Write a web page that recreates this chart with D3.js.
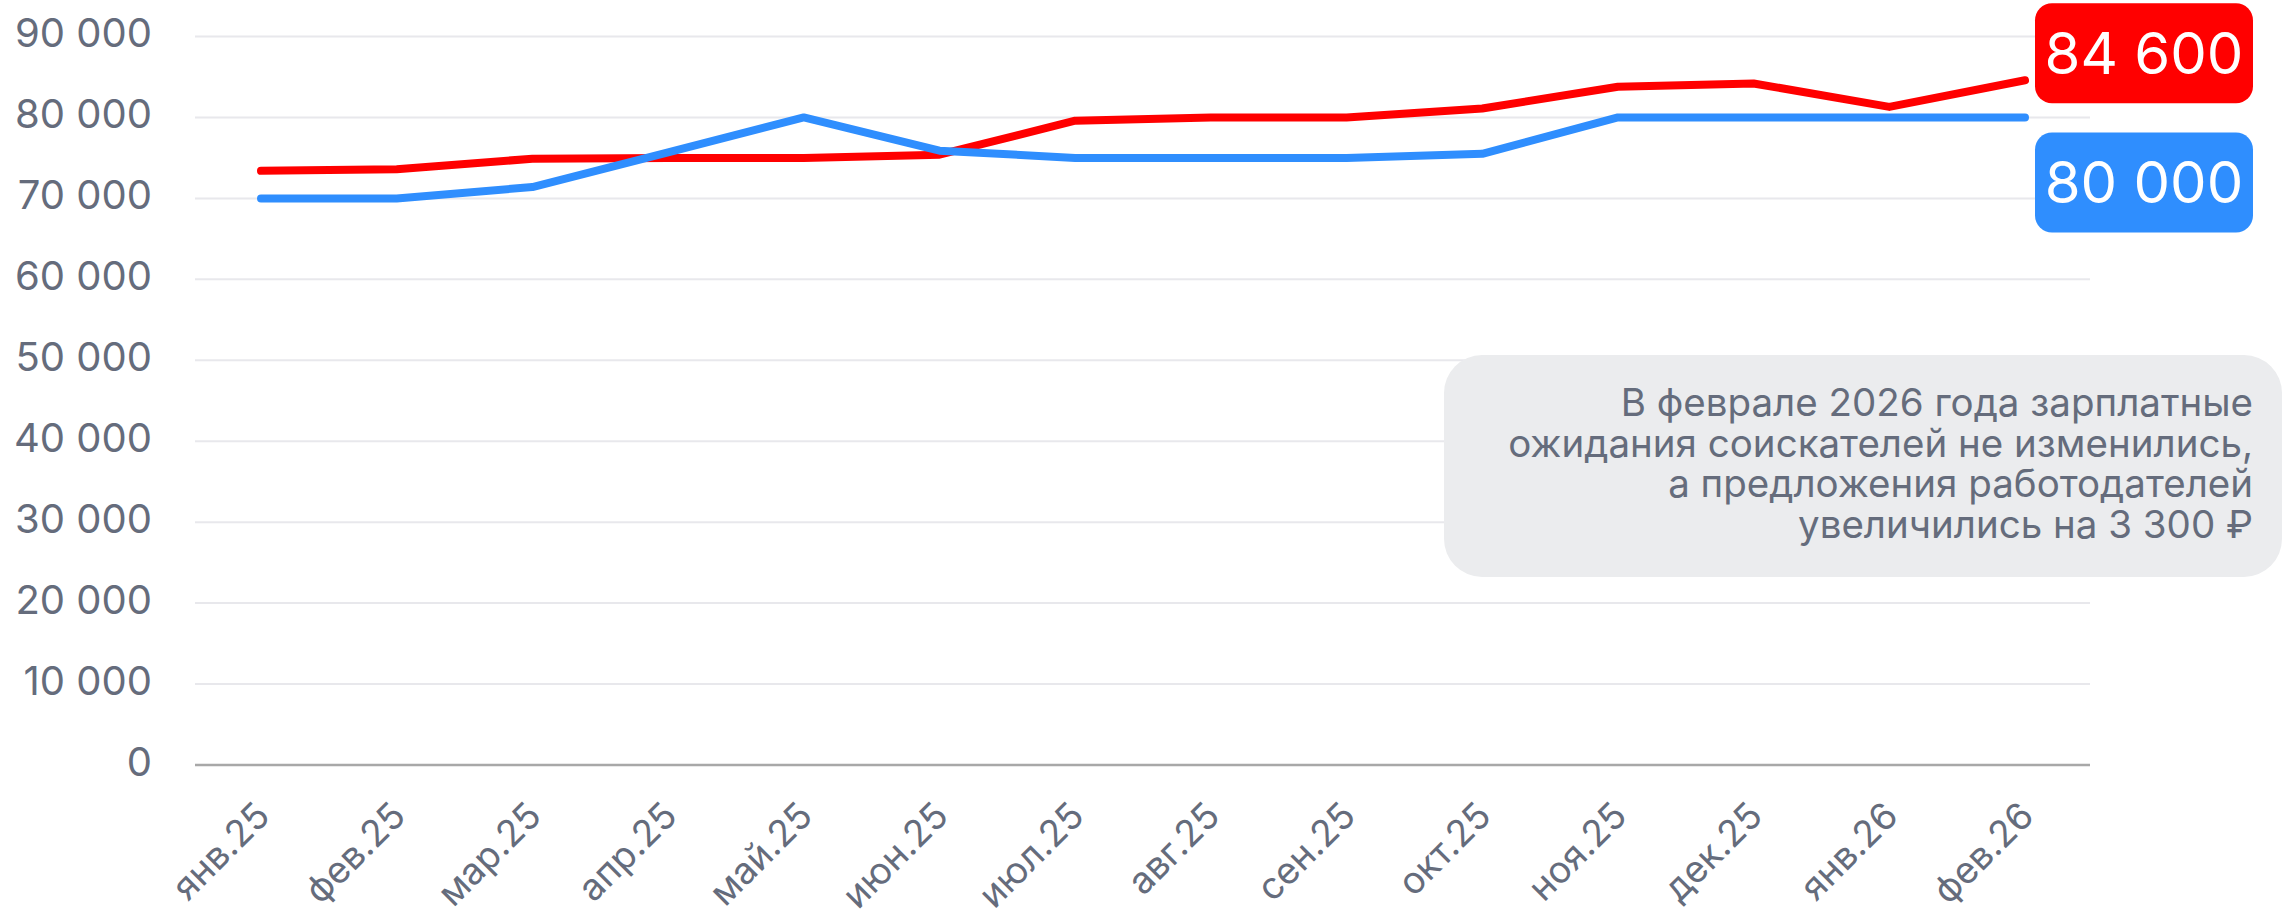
<!DOCTYPE html>
<html>
<head>
<meta charset="utf-8">
<script src="https://cdn.jsdelivr.net/npm/d3@7/dist/d3.min.js"></script>
<style>
  body { margin: 0; background: #fff; }
  svg { display: block; font-family: Inter, "Noto Sans", sans-serif; }
</style>
</head>
<body>
<div id="chart-area"></div>
<script>
// months on the x axis
var months = ["янв.25", "фев.25", "мар.25", "апр.25", "май.25", "июн.25", "июл.25",
              "авг.25", "сен.25", "окт.25", "ноя.25", "дек.25", "янв.26", "фев.26"];

// red line (соискатели)
var redValues = [73400, 73600, 74900, 75000, 75000, 75400, 79600,
                 80000, 80000, 81100, 83800, 84200, 81300, 84600];

// blue line (работодатели)
var blueValues = [70000, 70000, 71400, 75700, 80000, 75900, 75000,
                  75000, 75000, 75500, 80000, 80000, 80000, 80000];

var yTicks = [0, 10000, 20000, 30000, 40000, 50000, 60000, 70000, 80000, 90000];

var noteLines = ["В феврале 2026 года зарплатные",
                 "ожидания соискателей не изменились,",
                 "а предложения работодателей",
                 "увеличились на 3 300 ₽"];

var width = 2282, height = 919;
var textColor = "#656c7c";

var svg = d3.select("#chart-area")
    .append("svg")
        .attr("width", width)
        .attr("height", height);

var xScale = d3.scalePoint()
    .domain(months)
    .range([261, 2025]);

var yScale = d3.scaleLinear()
    .domain([0, 90000])
    .range([765, 36.5]);

var fmt = function(d) {
    return d3.format(",")(d).replace(/,/g, " ");
};

// grid
svg.append("g")
    .attr("class", "grid")
    .selectAll("line")
    .data(yTicks.filter(function(d) { return d > 0; }))
    .enter()
    .append("line")
        .attr("x1", 195)
        .attr("x2", 2090)
        .attr("y1", function(d) { return yScale(d); })
        .attr("y2", function(d) { return yScale(d); })
        .attr("stroke", "#e8e8ec")
        .attr("stroke-width", 2);

svg.append("line")
    .attr("x1", 195)
    .attr("x2", 2090)
    .attr("y1", yScale(0))
    .attr("y2", yScale(0))
    .attr("stroke", "#a8a8a8")
    .attr("stroke-width", 2.5);

// y axis labels
var yAxisCall = d3.axisLeft(yScale)
    .tickValues(yTicks)
    .tickSize(0)
    .tickPadding(0)
    .tickFormat(fmt);

var yAxis = svg.append("g")
    .attr("class", "y-axis")
    .attr("transform", "translate(152, 0)")
    .call(yAxisCall);
yAxis.select(".domain").remove();
yAxis.selectAll("text")
    .attr("font-size", "40px")
    .attr("font-family", "Inter, sans-serif")
    .attr("fill", textColor)
    .attr("dy", "0.26em");

// x axis labels
svg.append("g")
    .attr("class", "x-axis")
    .selectAll("text")
    .data(months)
    .enter()
    .append("text")
        .attr("transform", function(d) {
            return "translate(" + (xScale(d) + 11) + ", 818) rotate(-45)";
        })
        .attr("text-anchor", "end")
        .attr("font-size", "37px")
        .attr("fill", textColor)
        .text(function(d) { return d; });

// lines
var line = d3.line()
    .x(function(d, i) { return xScale(months[i]); })
    .y(function(d) { return yScale(d); });

svg.append("path")
    .attr("d", line(redValues))
    .attr("fill", "none")
    .attr("stroke", "#ff0000")
    .attr("stroke-width", 8)
    .attr("stroke-linecap", "round")
    .attr("stroke-linejoin", "round");

svg.append("path")
    .attr("d", line(blueValues))
    .attr("fill", "none")
    .attr("stroke", "#2f8efe")
    .attr("stroke-width", 8)
    .attr("stroke-linecap", "round")
    .attr("stroke-linejoin", "round");

// end labels
var lastRed = redValues[redValues.length - 1];
var lastBlue = blueValues[blueValues.length - 1];
var endLabels = [
    { value: lastRed, color: "#ff0000", cy: yScale(lastRed) - 27 },
    { value: lastBlue, color: "#2f8efe", cy: yScale(lastBlue) + 65 }
];

var tags = svg.selectAll(".end-label")
    .data(endLabels)
    .enter()
    .append("g")
        .attr("class", "end-label")
        .attr("transform", function(d) { return "translate(2144, " + d.cy + ")"; });

tags.append("rect")
    .attr("x", -109)
    .attr("y", -50)
    .attr("width", 218)
    .attr("height", 100)
    .attr("rx", 17)
    .attr("fill", function(d) { return d.color; });

tags.append("text")
    .attr("text-anchor", "middle")
    .attr("dy", "0.36em")
    .attr("font-size", "58px")
    .attr("fill", "#fff")
    .text(function(d) { return fmt(d.value); });

// note
var note = svg.append("g").attr("class", "note");
note.append("rect")
    .attr("x", 1444)
    .attr("y", 355)
    .attr("width", 838)
    .attr("height", 222)
    .attr("rx", 38)
    .attr("fill", "#ebecee");

note.selectAll("text")
    .data(noteLines)
    .enter()
    .append("text")
        .attr("x", 2253)
        .attr("y", function(d, i) { return 416 + i * 40.5; })
        .attr("text-anchor", "end")
        .attr("font-size", "38.5px")
        .attr("fill", textColor)
        .text(function(d) { return d; });
</script>
</body>
</html>
